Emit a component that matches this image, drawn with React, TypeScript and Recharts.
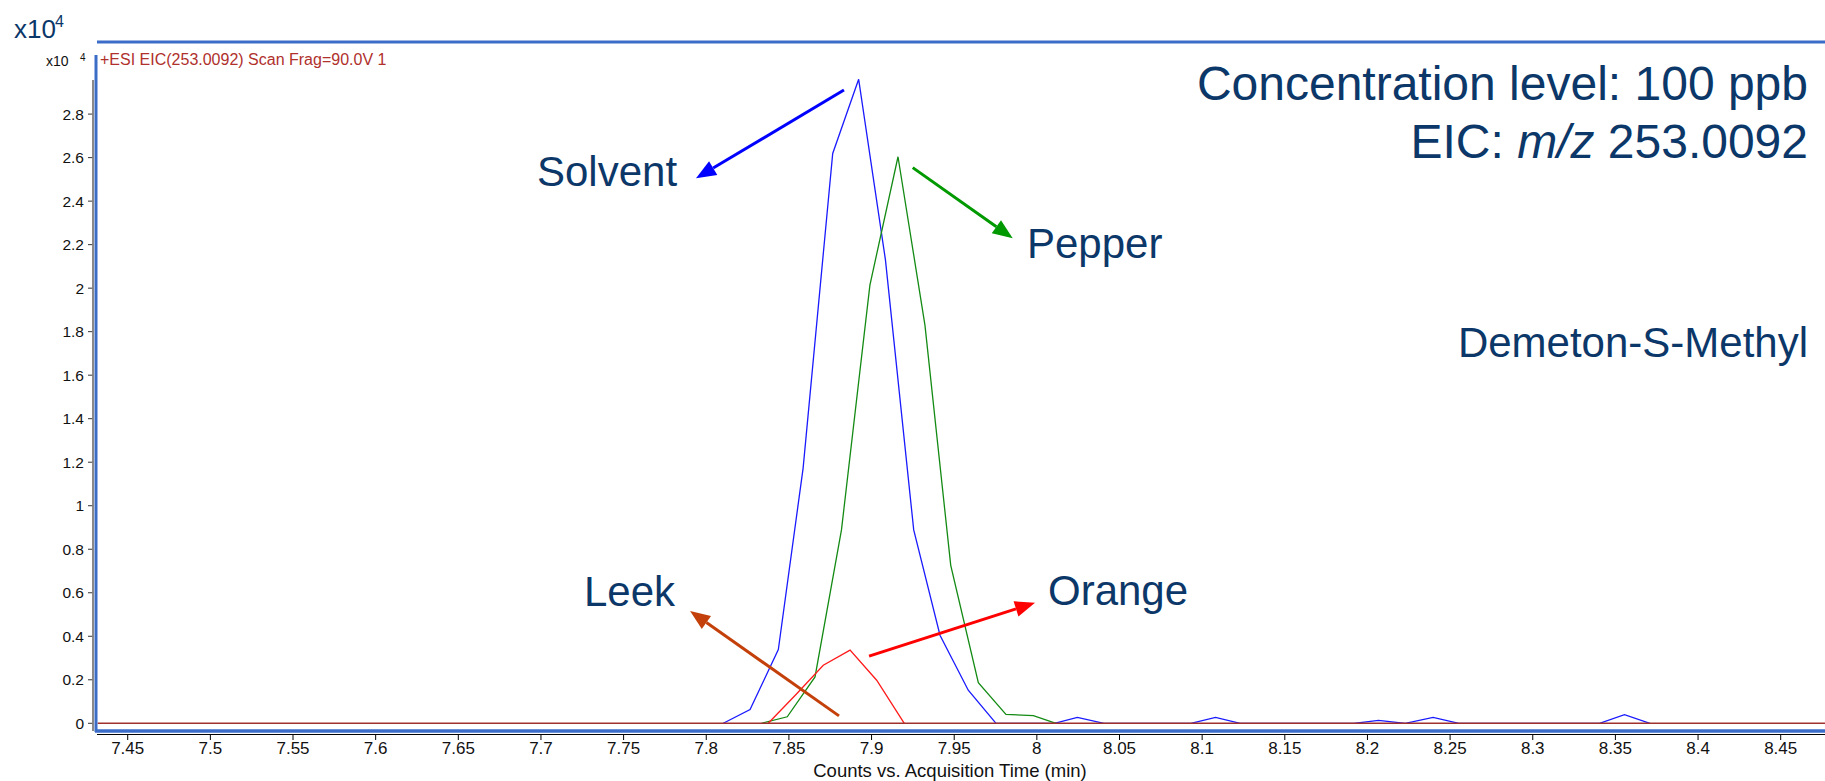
import React from 'react';
import { LineChart, Line, XAxis, YAxis, ReferenceLine } from 'recharts';

// acquisition time (min) and counts (x10^4)
const solventTime = [7.8103, 7.8265, 7.8436, 7.8586, 7.8765, 7.8922, 7.9084, 7.9255, 7.9414, 7.9585, 7.9753, 8.0106, 8.0245, 8.0406, 8.0932, 8.1081, 8.123, 8.1918, 8.2067, 8.2229, 8.2397, 8.2553, 8.3404, 8.3555, 8.3709];
const solventCounts = [0, 0.063, 0.339, 1.173, 2.619, 2.96, 2.13, 0.889, 0.405, 0.152, 0, 0, 0.027, 0, 0, 0.027, 0, 0, 0.013, 0, 0.027, 0, 0, 0.04, 0];

const pepperTime = [7.8335, 7.849, 7.8658, 7.8818, 7.899, 7.916, 7.9323, 7.9479, 7.9646, 7.9813, 7.9979, 8.0116];
const pepperCounts = [0, 0.03, 0.213, 0.889, 2.014, 2.604, 1.83, 0.726, 0.187, 0.041, 0.035, 0];

const orangeTime = [7.8375, 7.854, 7.8708, 7.887, 7.9031, 7.9198];
const orangeCounts = [0, 0.13, 0.267, 0.336, 0.198, 0];

const leekTime = [7.4318, 8.4768];
const leekCounts = [0, 0];

const xTicks = [7.45, 7.5, 7.55, 7.6, 7.65, 7.7, 7.75, 7.8, 7.85, 7.9, 7.95, 8, 8.05, 8.1, 8.15, 8.2, 8.25, 8.3, 8.35, 8.4, 8.45];
const yTicks = [0, 0.2, 0.4, 0.6, 0.8, 1, 1.2, 1.4, 1.6, 1.8, 2, 2.2, 2.4, 2.6, 2.8];

// arrow annotations, in data units: start -> tip
const arrows = [
  { name: 'Solvent', color: '#0000ff', from: { x: 7.8833, y: 2.911 }, to: { x: 7.7938, y: 2.505 } },
  { name: 'Pepper', color: '#009900', from: { x: 7.9249, y: 2.554 }, to: { x: 7.9854, y: 2.229 } },
  { name: 'Leek', color: '#c4400a', from: { x: 7.8803, y: 0.034 }, to: { x: 7.7902, y: 0.516 } },
  { name: 'Orange', color: '#ff0000', from: { x: 7.8985, y: 0.309 }, to: { x: 7.9989, y: 0.554 } },
];

const W = 1825;
const H = 781;
const NAVY = '#0c3769';
const FONT = '"Liberation Sans", Arial, Helvetica, sans-serif';

const toPoints = (times: number[], counts: number[]) => times.map((t, i) => ({ t, v: counts[i] }));

const arrowShape = (color: string) => (props: any) => {
  const { x1, y1, x2, y2 } = props;
  const dx = x2 - x1;
  const dy = y2 - y1;
  const len = Math.hypot(dx, dy) || 1;
  const ux = dx / len;
  const uy = dy / len;
  const head = 20;
  const half = 8;
  const bx = x2 - ux * head;
  const by = y2 - uy * head;
  const pts = `${x2},${y2} ${bx - uy * half},${by + ux * half} ${bx + uy * half},${by - ux * half}`;
  return (
    <g>
      <line x1={x1} y1={y1} x2={bx} y2={by} stroke={color} strokeWidth={3} />
      <polygon points={pts} fill={color} />
    </g>
  );
};

const App: React.FC = () => {
  const labelStyle = { fontFamily: FONT, fill: NAVY };

  return (
    <div style={{ position: 'absolute', left: 0, top: 0, width: W, height: H, background: '#fff', overflow: 'hidden' }}>
      <LineChart width={W} height={H} margin={{ top: 42, right: 0, left: 33, bottom: 17 }}>
        <XAxis
          dataKey="t"
          type="number"
          domain={[7.429, 8.4768]}
          allowDataOverflow
          ticks={xTicks}
          interval={0}
          height={30}
          axisLine={false}
          tickLine={{ stroke: '#000' }}
          tickSize={6}
          tickMargin={2}
          tick={{ fontSize: 17, fill: '#111', fontFamily: FONT }}
        />
        <YAxis
          type="number"
          domain={[-0.0492, 3.1314]}
          allowDataOverflow
          ticks={yTicks}
          interval={0}
          width={60}
          axisLine={false}
          tickLine={{ stroke: '#333' }}
          tickSize={5}
          tickMargin={4}
          tick={{ fontSize: 15.5, fill: '#111', fontFamily: FONT }}
        />
        <Line data={toPoints(solventTime, solventCounts)} dataKey="v" stroke="#1a1aff" strokeWidth={1.3} dot={false} isAnimationActive={false} />
        <Line data={toPoints(pepperTime, pepperCounts)} dataKey="v" stroke="#138a13" strokeWidth={1.3} dot={false} isAnimationActive={false} />
        <Line data={toPoints(orangeTime, orangeCounts)} dataKey="v" stroke="#ff1a1a" strokeWidth={1.3} dot={false} isAnimationActive={false} />
        <Line data={toPoints(leekTime, leekCounts)} dataKey="v" stroke="#a0302c" strokeWidth={1.5} dot={false} isAnimationActive={false} />
        {arrows.map((a) => (
          <ReferenceLine key={a.name} segment={[a.from, a.to]} shape={arrowShape(a.color)} />
        ))}
      </LineChart>

      <svg width={W} height={H} style={{ position: 'absolute', left: 0, top: 0, pointerEvents: 'none' }}>
        {/* frame and axis lines */}
        <line x1={97} y1={42} x2={W} y2={42} stroke="#3a6cc8" strokeWidth={3} />
        <line x1={96} y1={55} x2={96} y2={732} stroke="#3a6cc8" strokeWidth={3} />
        <line x1={95} y1={731} x2={W} y2={731} stroke="#3a6cc8" strokeWidth={3.5} />
        <line x1={93} y1={80} x2={93} y2={731} stroke="#7d7d7d" strokeWidth={1.8} />
        <line x1={97} y1={734.5} x2={W} y2={734.5} stroke="#000" strokeWidth={1.2} />

        {/* scale factors and trace header */}
        <text x={14} y={38} fontSize={26} {...labelStyle}>x10</text>
        <text x={55} y={27} fontSize={16} {...labelStyle}>4</text>
        <text x={46} y={66} fontSize={14} fontFamily={FONT} fill="#111">x10</text>
        <text x={80} y={61} fontSize={10} fontFamily={FONT} fill="#111">4</text>
        <text x={100} y={65} fontSize={16} fontFamily={FONT} fill="#b0302c">+ESI EIC(253.0092) Scan Frag=90.0V 1</text>

        {/* annotations */}
        <text x={1808} y={100} fontSize={48} textAnchor="end" {...labelStyle}>Concentration level: 100 ppb</text>
        <text x={1808} y={158} fontSize={48} textAnchor="end" {...labelStyle}>
          EIC: <tspan fontStyle="italic">m/z</tspan> 253.0092
        </text>
        <text x={1808} y={357} fontSize={42} textAnchor="end" {...labelStyle}>Demeton-S-Methyl</text>
        <text x={537} y={186} fontSize={42} {...labelStyle}>Solvent</text>
        <text x={1027} y={258} fontSize={42} {...labelStyle}>Pepper</text>
        <text x={584} y={606} fontSize={42} {...labelStyle}>Leek</text>
        <text x={1048} y={605} fontSize={42} {...labelStyle}>Orange</text>

        <text x={950} y={777} fontSize={18.5} textAnchor="middle" fontFamily={FONT} fill="#111">Counts vs. Acquisition Time (min)</text>
      </svg>
    </div>
  );
};

export default App;
